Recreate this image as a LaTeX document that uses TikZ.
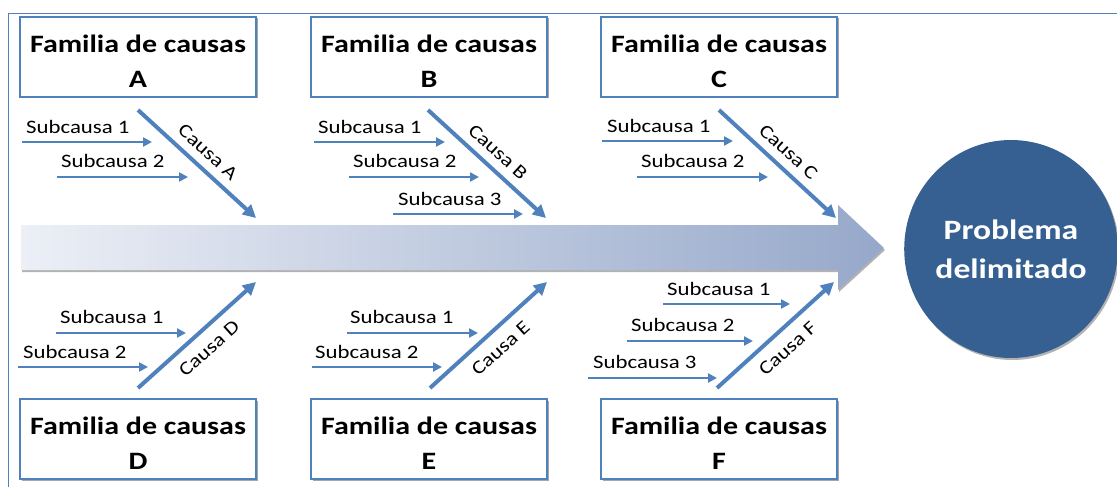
\documentclass[tikz,border=0pt]{standalone}
\usepackage{fontspec}
\setmainfont{Carlito}[FakeStretch=1.2]
\usetikzlibrary{arrows.meta,shadows,shapes.geometric}
\definecolor{lblue}{RGB}{79,129,189}
\definecolor{cblue}{RGB}{55,96,146}
\definecolor{sleft}{RGB}{236,239,246}
\definecolor{sright}{RGB}{150,168,202}
\newcommand{\famtext}[1]{\rule{0pt}{26pt}Familia de causas\\#1}
\begin{document}
\begin{tikzpicture}[x=1pt,y=-1pt,
 fambox/.style={draw=lblue, line width=2.5pt, fill=white, minimum width=236pt, minimum height=80pt, align=center, font=\fontsize{25}{35}\selectfont\bfseries, inner sep=0pt, drop shadow={shadow xshift=1.5pt,shadow yshift=-1.5pt,opacity=0.35,fill=black}},
 causearrow/.style={draw=lblue, line width=4pt, -{Triangle[length=13pt,width=13pt]}},
 subarrow/.style={draw=lblue, line width=2.5pt, -{Triangle[length=9pt,width=9pt]}},
 sublabel/.style={font=\fontsize{19}{22}\selectfont, anchor=base west, inner sep=0pt},
 causelabel/.style={font=\fontsize{19}{22}\selectfont, sloped, inner sep=2pt}
]
\useasboundingbox (0,0) rectangle (1117,487);
% frame
\draw[lblue, line width=1pt] (8,487) -- (8,14) -- (1117,14);
% spine
\shade[left color=sleft, right color=sright, drop shadow={shadow xshift=1pt,shadow yshift=-2pt,opacity=0.3,fill=black}]
  (21,225) -- (838,225) -- (838,205) -- (884,248) -- (838,290) -- (838,270) -- (21,270) -- cycle;
% problem
\node[ellipse, fill=cblue, minimum width=210pt, minimum height=218pt, inner sep=0pt, text=white, align=center,
  font=\fontsize{28}{39}\selectfont\bfseries, drop shadow={shadow xshift=1.5pt,shadow yshift=-2pt,opacity=0.3,fill=black}] (prob) at (1011,249) {Problema\\delimitado};
% family boxes
\node[fambox] (famA) at (138,57) {\famtext{A}};
\node[fambox] (famB) at (429,57) {\famtext{B}};
\node[fambox] (famC) at (719,57) {\famtext{C}};
\node[fambox] (famD) at (138,439) {\famtext{D}};
\node[fambox] (famE) at (429,439) {\famtext{E}};
\node[fambox] (famF) at (719,439) {\famtext{F}};
% cause arrows
\coordinate (aS) at (138,110); \coordinate (aE) at (256,218);
\coordinate (bS) at (428,110); \coordinate (bE) at (546,218);
\coordinate (cS) at (719,110); \coordinate (cE) at (836,218);
\coordinate (dS) at (138,388); \coordinate (dE) at (256,282);
\coordinate (eS) at (430,388); \coordinate (eE) at (547,282);
\coordinate (fS) at (717,388); \coordinate (fE) at (834,282);
\draw[causearrow] (aS) -- node[causelabel, above=6pt] (lA) {Causa A} (aE);
\draw[causearrow] (bS) -- node[causelabel, above=6pt] (lB) {Causa B} (bE);
\draw[causearrow] (cS) -- node[causelabel, above=6pt] (lC) {Causa C} (cE);
\draw[causearrow] (dS) -- node[causelabel, below=8pt] (lD) {Causa D} (dE);
\draw[causearrow] (eS) -- node[causelabel, below=8pt] (lE) {Causa E} (eE);
\draw[causearrow] (fS) -- node[causelabel, below=8pt] (lF) {Causa F} (fE);
% sub arrows A
\coordinate (a1s) at (22,142); \coordinate (a1e) at (152,142);
\coordinate (a2s) at (57,177); \coordinate (a2e) at (188,177);
\draw[subarrow] (a1s) -- (a1e); \node[sublabel] (ta1) at (26,133) {Subcausa 1};
\draw[subarrow] (a2s) -- (a2e); \node[sublabel] (ta2) at (61,167) {Subcausa 2};
% B
\coordinate (b1s) at (314,142); \coordinate (b1e) at (445,142);
\coordinate (b2s) at (349,177); \coordinate (b2e) at (479,177);
\coordinate (b3s) at (393,214); \coordinate (b3e) at (523,214);
\draw[subarrow] (b1s) -- (b1e); \node[sublabel] (tb1) at (318,133) {Subcausa 1};
\draw[subarrow] (b2s) -- (b2e); \node[sublabel] (tb2) at (353,167) {Subcausa 2};
\draw[subarrow] (b3s) -- (b3e); \node[sublabel] (tb3) at (398,205) {Subcausa 3};
% C
\coordinate (c1s) at (602,141); \coordinate (c1e) at (733,141);
\coordinate (c2s) at (637,177); \coordinate (c2e) at (768,177);
\draw[subarrow] (c1s) -- (c1e); \node[sublabel] (tc1) at (607,132) {Subcausa 1};
\draw[subarrow] (c2s) -- (c2e); \node[sublabel] (tc2) at (641,167) {Subcausa 2};
% D
\coordinate (d1s) at (56,333); \coordinate (d1e) at (186,333);
\coordinate (d2s) at (18,367); \coordinate (d2e) at (148,367);
\draw[subarrow] (d1s) -- (d1e); \node[sublabel] (td1) at (60,323) {Subcausa 1};
\draw[subarrow] (d2s) -- (d2e); \node[sublabel] (td2) at (23,358) {Subcausa 2};
% E
\coordinate (e1s) at (347,333); \coordinate (e1e) at (478,333);
\coordinate (e2s) at (312,367); \coordinate (e2e) at (442,367);
\draw[subarrow] (e1s) -- (e1e); \node[sublabel] (te1) at (350,323) {Subcausa 1};
\draw[subarrow] (e2s) -- (e2e); \node[sublabel] (te2) at (315,358) {Subcausa 2};
% F
\coordinate (f1s) at (663,304); \coordinate (f1e) at (790,304);
\coordinate (f2s) at (627,341); \coordinate (f2e) at (753,341);
\coordinate (f3s) at (588,378); \coordinate (f3e) at (717,378);
\draw[subarrow] (f1s) -- (f1e); \node[sublabel] (tf1) at (667,295) {Subcausa 1};
\draw[subarrow] (f2s) -- (f2e); \node[sublabel] (tf2) at (631,331) {Subcausa 2};
\draw[subarrow] (f3s) -- (f3e); \node[sublabel] (tf3) at (593,368) {Subcausa 3};
\end{tikzpicture}
\end{document}
